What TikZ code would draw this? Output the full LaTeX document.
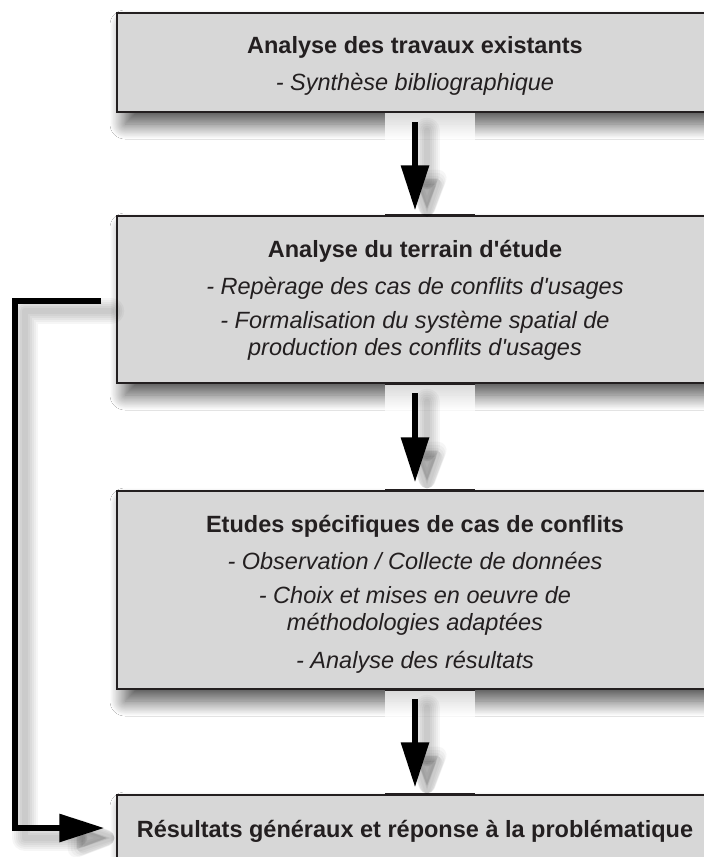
\documentclass[tikz,border=0pt]{standalone}
\usepackage{fontspec}
\setmainfont{Liberation Sans}[Ligatures=TeXOff]
\usetikzlibrary{arrows.meta, shadows.blur}
\definecolor{boxgray}{HTML}{D7D7D7}
\definecolor{inkblack}{HTML}{231F20}
\tikzset{
	box/.style={draw=inkblack, line width=1.4pt, fill=boxgray, minimum width=596pt, inner sep=0pt,
		blur shadow={shadow xshift=8pt, shadow yshift=-12pt, shadow blur radius=15pt, shadow blur steps=25, shadow opacity=70}},
	titletext/.style={anchor=base, inner sep=0pt, text=inkblack, font=\fontsize{23.5}{28}\selectfont\bfseries},
	itemtext/.style={anchor=base, inner sep=0pt, text=inkblack, font=\fontsize{23.5}{28}\selectfont\itshape},
	flow/.style={line width=6pt, draw=black, -{Triangle[length=45pt, width=27pt]}},
	shadearrow/.style 2 args={line width=#1pt, draw=black, opacity=0.035, line cap=round, line join=round,
		-{Triangle[length=45pt, width=27pt, scale=#2, round]}},
	edgemark/.style={line width=3pt, draw=inkblack},
}

\begin{document}
\begin{tikzpicture}[x=1pt, y=-1pt]
	\useasboundingbox[fill=white] (0,0) rectangle (704,857);

	% boxes
	\node[box, minimum height=99pt] (b1) at (415,62.5) {};
	\node[box, minimum height=167pt] (b2) at (415,299.5) {};
	\node[box, minimum height=198pt] (b3) at (415,590) {};
	\node[box, minimum height=85pt] (b4) at (415,837.5) {};

	% light band behind the arrows
	\foreach \a/\b in {b1/b2, b2/b3, b3/b4}
	\fill[white, opacity=0.75] ([xshift=-30pt]\a.south) rectangle ([xshift=60pt]\b.north);
	\foreach \n/\side in {b2/north, b2/south, b3/north, b3/south, b4/north}
	\draw[edgemark] ([xshift=-30pt]\n.\side) -- ([xshift=60pt]\n.\side);

	% arrows with soft shadows
	\foreach \a/\b/\e in {b1/b2/5, b2/b3/8, b3/b4/7} {
		\foreach \w/\s in {26/1.5, 22/1.4, 18/1.3, 14/1.2, 10/1.1, 6/1.0}
		\draw[shadearrow={\w}{\s}, shorten <=12pt, shorten >=\e pt, transform canvas={xshift=12pt, yshift=-6pt}] (\a) -- (\b);
		\draw[flow, shorten <=9.5pt, shorten >=\e pt] (\a) -- (\b);
	}

	% feedback loop
	\coordinate (fbtop) at (15,301);
	\coordinate (fbbot) at (15,828);
	\foreach \w/\s in {26/1.5, 22/1.4, 18/1.3, 14/1.2, 10/1.1, 6/1.0}
	\draw[shadearrow={\w}{\s}, shorten >=12pt, transform canvas={xshift=10pt, yshift=-10pt}] (fbtop -| b2.west) ++(-15,0) -- (fbtop) -- (fbbot) -- (fbbot -| b4.west);
	\draw[flow, shorten >=12pt] (fbtop -| b2.west) ++(-15,0) -- (fbtop) -- (fbbot) -- (fbbot -| b4.west);

	% texts
	\node[titletext] (t1) at (415,53) {Analyse des travaux existants};
	\node[itemtext] (t1a) at (415,90) {- Synthèse bibliographique};

	\node[titletext] (t2) at (415,257) {Analyse du terrain d'étude};
	\node[itemtext] (t2a) at (415,294) {- Repèrage des cas de conflits d'usages};
	\node[itemtext] (t2b) at (415,328) {- Formalisation du système spatial de};
	\node[itemtext] (t2c) at (415,355) {production des conflits d'usages};

	\node[titletext] (t3) at (415,532) {Etudes spécifiques de cas de conflits};
	\node[itemtext] (t3a) at (415,569) {- Observation / Collecte de données};
	\node[itemtext] (t3b) at (415,603) {- Choix et mises en oeuvre de};
	\node[itemtext] (t3c) at (415,630) {méthodologies adaptées};
	\node[itemtext] (t3d) at (415,668) {- Analyse des résultats};

	\node[titletext] (t4) at (415,837) {Résultats généraux et réponse à la problématique};
\end{tikzpicture}
\end{document}
